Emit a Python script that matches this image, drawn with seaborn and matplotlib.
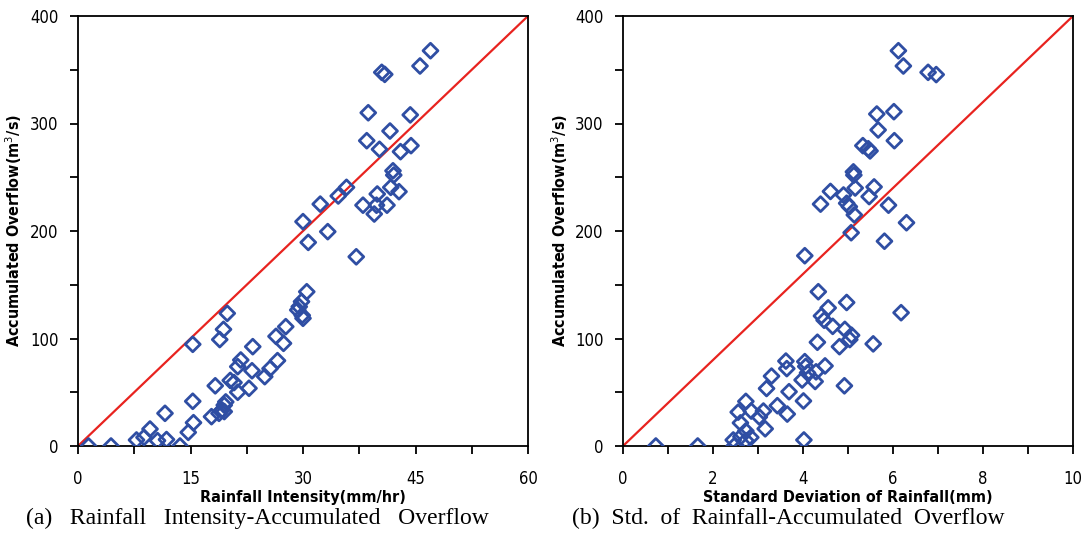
import matplotlib
matplotlib.use("Agg")
import matplotlib.pyplot as plt
import seaborn as sns
import pandas as pd
from matplotlib.ticker import MultipleLocator

# ---- Panel (a): Rainfall intensity vs accumulated overflow ----
intensity = [1.4, 4.4, 7.8, 8.8, 9.6, 10.6, 11.8, 11.6, 13.6, 14.7, 15.4, 15.3, 15.3,
             17.8, 18.3, 18.8, 19.2, 19.5, 19.7, 19.5, 18.9, 19.4, 19.9, 20.3, 20.8,
             21.3, 21.3, 21.7, 22.8, 23.2, 23.3, 24.9, 25.6, 26.6, 26.4, 27.4, 27.7,
             29.5, 29.3, 29.8, 30.0, 29.9, 30.5, 30.7, 30.0, 32.3, 33.3, 34.7, 35.8,
             37.1, 38.0, 38.5, 38.7, 39.5, 39.8, 39.9, 40.2, 40.5, 40.9, 41.2, 41.6,
             41.7, 42.0, 42.1, 42.8, 43.0, 44.3, 44.4, 45.6, 47.0]
overflow_a = [0, 0, 5.6, 8, 15.8, 5, 6, 30.4, 0, 12.7, 21.7, 41.6, 94.6,
              27.3, 56, 30.4, 33.5, 38, 41, 32, 99, 108.5, 123.4, 61, 59,
              50, 73.8, 80, 53.7, 70, 92.4, 64.5, 72, 79.4, 102, 95.5, 111,
              129.6, 126.5, 134.3, 118.8, 121.5, 143.5, 189.4, 208.7, 225, 199.4, 232.6, 240.6,
              176, 224, 284, 310, 215.8, 224, 234.4, 276, 347.6, 345.7, 224, 293,
              240.6, 256, 252, 236.6, 273.8, 308, 279.4, 353.5, 367.7]

# ---- Panel (b): Std. of rainfall vs accumulated overflow ----
std_rain = [0.73, 1.66, 2.47, 2.45, 2.62, 2.73, 2.84, 2.73, 2.61, 2.56, 2.73, 2.85,
            3.03, 3.12, 3.16, 3.19, 3.30, 3.43, 3.62, 3.64, 3.69, 3.65, 4.02, 4.01,
            3.98, 4.04, 4.06, 4.10, 4.27, 4.29, 4.49, 4.32, 4.34, 4.41, 4.47, 4.56,
            4.66, 4.81, 4.92, 4.93, 4.97, 5.04, 5.08, 5.56, 6.18, 4.04, 5.07, 5.81,
            6.30, 5.14, 5.03, 4.97, 4.39, 5.90, 5.47, 4.90, 4.61, 5.16, 5.58, 5.12,
            5.13, 5.33, 5.49, 5.45, 6.03, 5.67, 5.64, 6.02, 6.12, 6.23, 6.78, 6.96]
overflow_b = [0, 0, 0, 5.6, 8.7, 5, 8, 14, 21.5, 31.5, 41.5, 32.5,
              27, 32.5, 16, 53.5, 65, 37.5, 79, 72, 50.5, 29.7, 5.6, 41.9,
              61.4, 78.5, 74, 68, 60, 69, 74.5, 96.5, 143.5, 121, 117, 128.5,
              111.3, 92.4, 56, 108.5, 133.5, 99, 103, 95, 124, 177, 198.4, 190.5,
              207.7, 215, 222.6, 225.8, 225, 224, 232, 233.5, 236.8, 240, 241, 255,
              252, 279.4, 274.5, 276.5, 284, 294, 308.8, 311, 367.7, 353.5, 347.6, 345.5]

# Reference 1:1 lines (axis range diagonals)
diag_a_x = [0, 60]
diag_b_x = [0, 10]
diag_y = [0, 400]

xticks_a = [0, 15, 30, 45, 60]
xticks_b = [0, 2, 4, 6, 8, 10]
yticks = [0, 100, 200, 300, 400]

sns.set_theme(style="ticks")
plt.rcParams["font.family"] = ["DejaVu Sans"]
plt.rcParams["font.stretch"] = "condensed"
plt.rcParams["text.color"] = "black"
plt.rcParams["axes.labelcolor"] = "black"

fig = plt.figure(figsize=(10.84, 5.40), dpi=100)
ax_a = fig.add_axes([78 / 1084, 94 / 540, 450 / 1084, 430 / 540])
ax_b = fig.add_axes([623 / 1084, 94 / 540, 450 / 1084, 430 / 540])

blue = "#2f4ea3"
red = "#e8231f"

panels = [
    (ax_a, intensity, overflow_a, diag_a_x, xticks_a, 7.5, "Rainfall Intensity(mm/hr)"),
    (ax_b, std_rain, overflow_b, diag_b_x, xticks_b, 1.0, "Standard Deviation of Rainfall(mm)"),
]

for ax, xs, ys, dx, xt, minor, xlabel in panels:
    sns.lineplot(x=dx, y=diag_y, ax=ax, color=red, linewidth=1.6, zorder=1)
    df = pd.DataFrame({"x": xs, "y": ys})
    sns.scatterplot(data=df, x="x", y="y", ax=ax, marker="D", s=58,
                    facecolor="none", edgecolor=blue, linewidth=2.0, zorder=3)
    ax.set_xlim(xt[0], xt[-1])
    ax.set_ylim(0, 400)
    ax.set_xticks(xt)
    ax.set_yticks(yticks)
    ax.xaxis.set_minor_locator(MultipleLocator(minor))
    ax.yaxis.set_minor_locator(MultipleLocator(50))
    ax.tick_params(which="both", direction="out", length=6, width=1.3,
                   labelsize=12, colors="black", top=False, right=False)
    ax.tick_params(axis="x", which="major", pad=11)
    ax.tick_params(axis="y", which="major", pad=8)
    for s in ax.spines.values():
        s.set_visible(True)
        s.set_linewidth(1.3)
        s.set_color("black")
    ax.set_xlabel(xlabel, fontsize=11.5, fontweight="bold", labelpad=2)
    ax.set_ylabel("Accumulated Overflow(m$^3$/s)", fontsize=11.5, fontweight="bold", labelpad=4)

serif = ["Liberation Serif", "DejaVu Serif"]
fig.text(257 / 1084, 1 - 518 / 540, "(a)   Rainfall   Intensity-Accumulated   Overflow",
         ha="center", va="center", fontsize=17, family=serif, stretch="normal")
fig.text(788 / 1084, 1 - 518 / 540, "(b)  Std.  of  Rainfall-Accumulated  Overflow",
         ha="center", va="center", fontsize=17, family=serif, stretch="normal")

fig.savefig("out.png", dpi=100, facecolor="white")
